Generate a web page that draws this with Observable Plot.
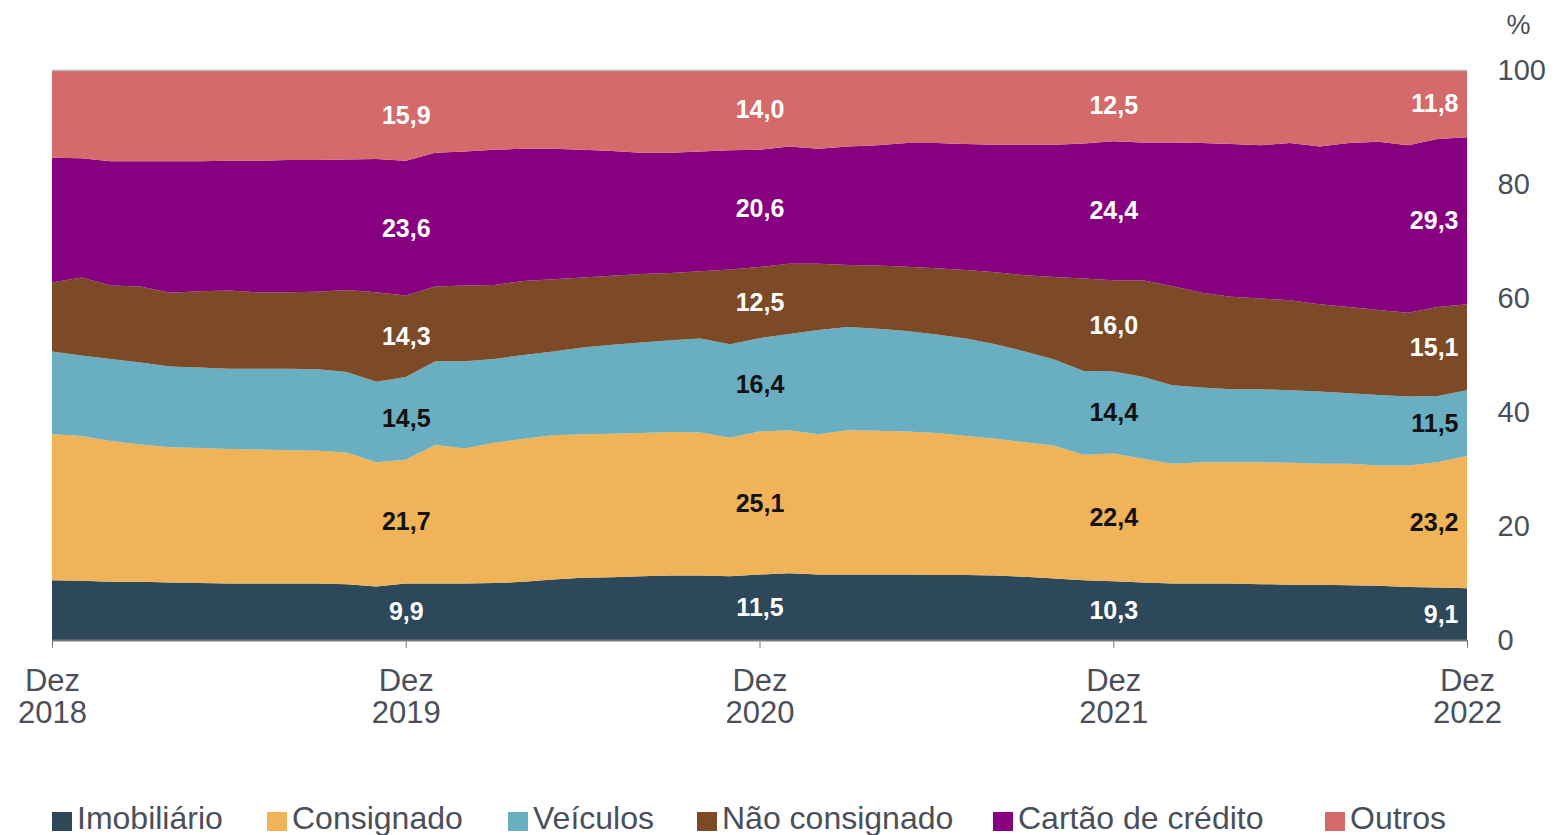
<!DOCTYPE html>
<html><head><meta charset="utf-8">
<script src="https://cdn.jsdelivr.net/npm/d3@7"></script>
<script src="https://cdn.jsdelivr.net/npm/@observablehq/plot@0.6"></script>
<style>
body{margin:0;background:#fff;font-family:"Liberation Sans",Arial,sans-serif;}
#wrap{position:relative;width:1556px;height:835px;overflow:hidden;background:#fff;}
.leg{position:absolute;top:802px;display:flex;align-items:flex-start;font-size:32px;line-height:32px;color:#4a4f5a;white-space:nowrap;}
.sw{width:20px;height:19px;margin-top:10px;margin-right:5px;flex:none;}
</style></head><body>
<div id="wrap"><div id="chart"></div><div id="legend"></div></div>
<script>
const months = ["2018-12","2019-01","2019-02","2019-03","2019-04","2019-05","2019-06","2019-07","2019-08","2019-09","2019-10","2019-11","2019-12",
"2020-01","2020-02","2020-03","2020-04","2020-05","2020-06","2020-07","2020-08","2020-09","2020-10","2020-11","2020-12",
"2021-01","2021-02","2021-03","2021-04","2021-05","2021-06","2021-07","2021-08","2021-09","2021-10","2021-11","2021-12",
"2022-01","2022-02","2022-03","2022-04","2022-05","2022-06","2022-07","2022-08","2022-09","2022-10","2022-11","2022-12"];

const seriesNames = ["Imobiliário","Consignado","Veículos","Não consignado","Cartão de crédito","Outros"];
const seriesColors = ["#2d4858","#f0b357","#6aaec1","#7d4a27","#860080","#d46a6a"];
const labelColors = ["white","#111","#111","white","white","white"];

const imobiliario = [10.5,10.4,10.2,10.2,10.1,10.0,9.9,9.9,9.9,9.9,9.8,9.4,9.9, 9.9,9.9,10.0,10.2,10.6,10.9,11.0,11.2,11.3,11.3,11.2,11.5, 11.7,11.5,11.5,11.5,11.5,11.4,11.4,11.3,11.1,10.8,10.5,10.3, 10.1,9.9,9.9,9.9,9.8,9.7,9.7,9.6,9.5,9.3,9.2,9.1];
const consignado = [25.6,25.4,24.7,24.1,23.7,23.7,23.6,23.5,23.4,23.3,23.1,21.8,21.7, 24.3,23.7,24.6,25.1,25.3,25.2,25.2,25.1,25.2,25.1,24.3,25.1, 25.1,24.6,25.3,25.2,25.1,24.9,24.4,24.0,23.6,23.3,22.0,22.4, 21.7,21.0,21.3,21.3,21.4,21.4,21.2,21.3,21.1,21.3,22.0,23.2];
const veiculos = [14.5,14.1,14.4,14.4,14.2,14.1,14.1,14.2,14.3,14.3,14.1,14.1,14.5, 14.7,15.3,14.7,14.7,14.7,15.2,15.6,15.9,16.1,16.5,16.4,16.4, 16.9,18.3,18.1,17.9,17.6,17.3,17.1,16.6,15.9,15.1,14.7,14.4, 14.4,13.8,13.1,12.8,12.8,12.7,12.7,12.4,12.4,12.1,11.6,11.5];
const naoConsignado = [12.1,13.7,12.9,13.3,12.9,13.4,13.7,13.4,13.4,13.6,14.4,15.7,14.3, 13.1,13.3,13.0,13.0,12.7,12.3,12.1,12.0,11.8,11.8,13.1,12.5, 12.3,11.6,10.9,11.1,11.3,11.6,12.0,12.6,13.4,14.5,16.2,16.0, 16.9,17.4,16.6,16.2,15.9,15.8,15.3,15.1,14.9,14.7,15.6,15.1];
const cartao = [21.9,20.9,21.8,22.0,23.1,22.8,22.8,23.1,23.2,23.1,22.9,23.4,23.6, 23.5,23.5,23.7,23.2,22.9,22.4,21.9,21.3,21.1,21.0,20.9,20.6, 20.6,20.2,20.8,21.1,21.7,22.0,22.1,22.4,22.9,23.2,23.7,24.4, 24.2,25.2,26.3,26.8,26.9,27.6,27.7,28.8,29.5,29.4,29.5,29.3];
const outros = [15.4,15.5,16.0,16.0,16.0,16.0,15.9,15.9,15.8,15.8,15.7,15.6,15.9, 14.5,14.3,14.0,13.8,13.8,14.0,14.2,14.5,14.5,14.3,14.1,14.0, 13.4,13.8,13.4,13.2,12.8,12.8,13.0,13.1,13.1,13.1,12.9,12.5, 12.7,12.7,12.8,13.0,13.2,12.8,13.4,12.8,12.6,13.2,12.1,11.8];

const xTickMonths = ["2018-12","2019-12","2020-12","2021-12","2022-12"];
const xTickLabels = ["Dez\n2018","Dez\n2019","Dez\n2020","Dez\n2021","Dez\n2022"];
const yTicks = [0,20,40,60,80,100];
const labelMonthsCenter = ["2019-12","2020-12","2021-12"];
const labelMonthsEnd = ["2022-12"];

const seriesValues = [imobiliario, consignado, veiculos, naoConsignado, cartao, outros];
const data = [];
seriesNames.forEach((s, k) => {
  seriesValues[k].forEach((v, i) => data.push({series: s, k, i, month: months[i], value: v}));
});
const fmt = v => v.toFixed(1).replace(".", ",");
const xTickIdx = xTickMonths.map(m => months.indexOf(m));
const centerData = data.filter(d => labelMonthsCenter.includes(d.month));
const endData = data.filter(d => labelMonthsEnd.includes(d.month));

const font = '"Liberation Sans", Arial, sans-serif';
const stackOpts = {x: "i", y: "value", z: "series", order: seriesNames, offset: "normalize"};

const chart = Plot.plot({
  width: 1556, height: 770,
  marginLeft: 52, marginRight: 89, marginTop: 70, marginBottom: 130,
  style: {fontFamily: font, color: "#4a4f5a", background: "white", overflow: "visible"},
  x: {domain: [0, months.length - 1]},
  y: {domain: [0, 1]},
  color: {domain: seriesNames, range: seriesColors},
  marks: [
    Plot.areaY(data, {...stackOpts, fill: "series", curve: "linear"}),
    Plot.ruleY([1], {stroke: "#b4b4b4", strokeWidth: 1.5}),
    Plot.ruleY([0], {stroke: "#7a7a7a", strokeWidth: 2}),
    Plot.axisX({ticks: xTickIdx, tickFormat: d => xTickLabels[xTickIdx.indexOf(d)], tickSize: 8, tickPadding: 20, fontSize: 31, stroke: "#7a7a7a", label: null, lineHeight: 1.03}),
    Plot.axisY({anchor: "right", ticks: yTicks.map(t => t / 100), tickFormat: d => String(Math.round(d * 100)), tickSize: 0, tickPadding: 30, fontSize: 29, label: null}),
    Plot.text(["%"], {frameAnchor: "top-right", textAnchor: "middle", dx: 51, dy: -56, fontSize: 27, fill: "#4a4f5a"}),
    Plot.text(centerData, Plot.stackY({...stackOpts, text: d => fmt(d.value), fill: d => labelColors[d.k], fontSize: 25, fontWeight: "bold"})),
    Plot.text(endData, Plot.stackY({...stackOpts, text: d => fmt(d.value), fill: d => labelColors[d.k], fontSize: 25, fontWeight: "bold", textAnchor: "end", dx: -9}))
  ]
});
document.getElementById("chart").appendChild(chart);

const legendX = [52, 267, 508, 697, 993, 1325];
const leg = document.getElementById("legend");
seriesNames.forEach((s, k) => {
  const item = document.createElement("div");
  item.className = "leg";
  item.style.left = legendX[k] + "px";
  const sw = document.createElement("div");
  sw.className = "sw";
  sw.style.background = seriesColors[k];
  const tx = document.createElement("span");
  tx.textContent = s;
  item.appendChild(sw); item.appendChild(tx);
  leg.appendChild(item);
});
</script></body></html>
